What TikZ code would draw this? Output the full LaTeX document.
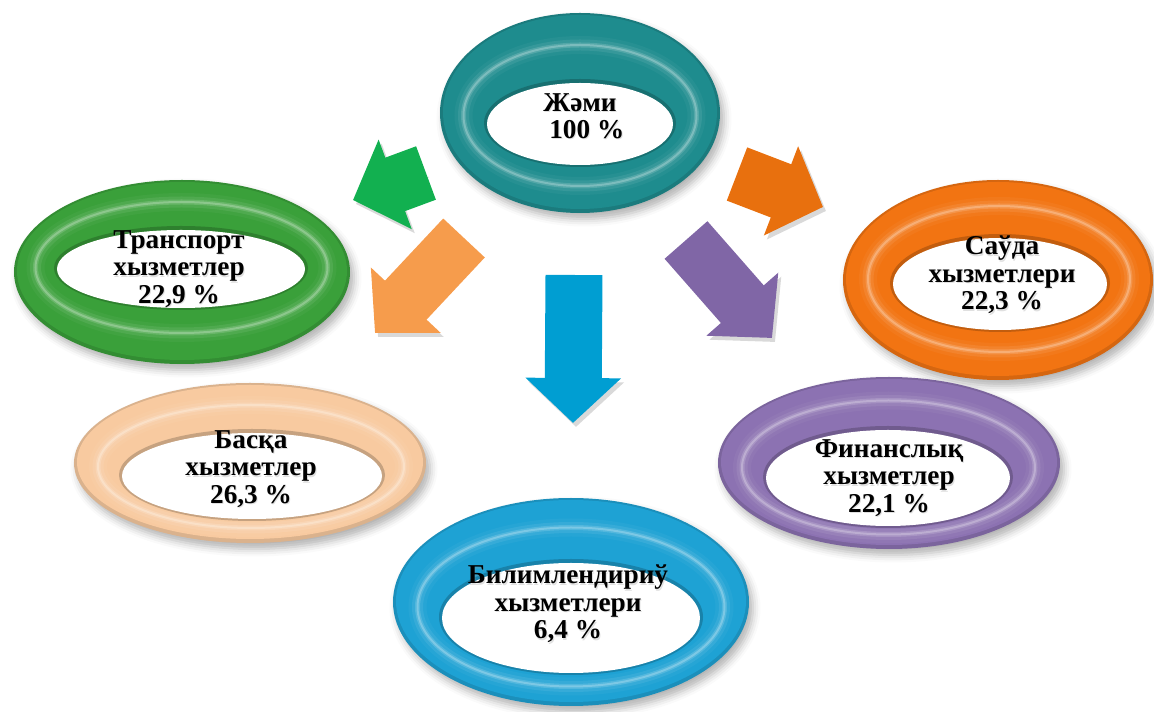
\documentclass[tikz,border=0pt]{standalone}
\usepackage{fontspec}
\setmainfont{Liberation Serif}
\usetikzlibrary{arrows.meta,shadows.blur}

\definecolor{ctotal}{RGB}{30,140,142}
\definecolor{ctrans}{RGB}{58,160,58}
\definecolor{cother}{RGB}{248,202,160}
\definecolor{ctrade}{RGB}{242,116,18}
\definecolor{cfin}{RGB}{140,114,178}
\definecolor{cedu}{RGB}{30,162,212}
\definecolor{agreen}{RGB}{18,176,80}
\definecolor{apeach}{RGB}{246,156,76}
\definecolor{ablue}{RGB}{0,158,210}
\definecolor{aorange}{RGB}{232,112,14}
\definecolor{apurple}{RGB}{128,102,166}

\tikzset{
  ringtext/.style={align=center,inner sep=0pt,font=\bfseries\fontsize{15.5}{15.6}\selectfont},
  txtshadow/.style={ringtext,text=black!40,opacity=.3},
  ringshadow/.style={blur shadow={shadow xshift=.08cm,shadow yshift=-.12cm,shadow blur radius=.15cm,shadow opacity=30}},
  blockarrow/.style={draw=#1,line width=1.14cm,-{Triangle[width=1.86cm,length=0.9cm]},
    preaction={draw=black,opacity=.15,transform canvas={shift={(3,4)}}}}
}

\begin{document}
\begin{tikzpicture}[x=0.02cm,y=-0.02cm]
  \useasboundingbox (0,0) rectangle (1154,712);

  % rings
  \foreach \n/\cx/\cy/\rx/\ry/\hx/\hy/\hrx/\hry/\col/\tx/\ty/\txt in {
      total/580/113/140/100/580/124/93/41/ctotal/580/116/{Жәми\\\hspace*{.5em}100 \%},
      trans/182/272/168/92/181/269/124/39/ctrans/179/269/{Транспорт\\хызметлер\\22,9 \%},
      other/250/463/176/80/252/476/130/43/cother/251/469/{Басқа\\хызметлер\\26,3 \%},
      trade/998/280/155/100/1000/284/107/46/ctrade/1002/275/{Саўда\\хызметлери\\22,3 \%},
      fin/889/463/171/86/888/478/122/48/cfin/889/478/{Финанслық\\хызметлер\\22,1 \%},
      edu/571/602/178/104/571/618/129/55/cedu/568/604/{Билимлендириў\\хызметлери\\6,4 \%}}
  {
    \fill[\col!88!black,ringshadow] (\cx,\cy) ellipse ({\rx} and {\ry});
    \fill[\col] (\cx,\cy-1) ellipse ({\rx-3} and {\ry-3});
    \foreach \w/\m/\o in {.36cm/85/.25,.22cm/75/.35,.1cm/60/.45,.04cm/40/.5}
      \draw[\col!\m!white,line width=\w,opacity=\o]
        ({(\cx+\hx)/2},{(\cy+\hy)/2-3}) ellipse ({(\rx+\hrx)/2} and {(\ry+\hry)/2});
    \fill[\col!80!black] (\hx,\hy-1) ellipse ({\hrx+3} and {\hry+3});
    \fill[white] (\hx,\hy) ellipse ({\hrx} and {\hry});
    \node[txtshadow] at (\tx+1,\ty+1.5) {\txt};
    \node[ringtext] (\n) at (\tx,\ty) {\txt};
  }

  % arrows
  \coordinate (ga) at (426,173); \coordinate (gb) at (353,200);
  \coordinate (pa) at (464,238); \coordinate (pb) at (375,333);
  \coordinate (ba) at (574,275); \coordinate (bb) at (573,423);
  \coordinate (oa) at (737,174); \coordinate (ob) at (823,207);
  \coordinate (va) at (686,240); \coordinate (vb) at (772,338);
  \draw[blockarrow=agreen] (ga) -- (gb);
  \draw[blockarrow=apeach] (pa) -- (pb);
  \draw[blockarrow=ablue] (ba) -- (bb);
  \draw[blockarrow=aorange] (oa) -- (ob);
  \draw[blockarrow=apurple] (va) -- (vb);
\end{tikzpicture}
\end{document}
